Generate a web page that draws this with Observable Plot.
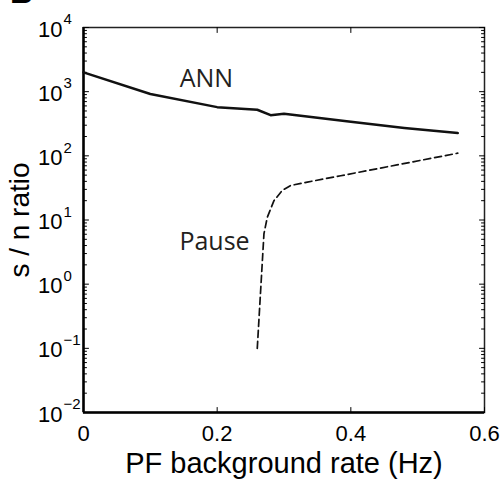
<!DOCTYPE html>
<html><head><meta charset="utf-8">
<script src="https://cdn.jsdelivr.net/npm/d3@7"></script>
<script src="https://cdn.jsdelivr.net/npm/@observablehq/plot@0.6"></script>
<style>
body{margin:0;background:#fff}
#chart{position:relative;width:504px;height:479px;overflow:hidden;background:#fff}
#panel{position:absolute;left:10px;top:-24px;font:bold 32px/32px 'Liberation Sans',Arial,sans-serif;color:#000}
</style>
</head><body><div id="chart"><div id="panel">B</div></div>
<script>
// ANN series (solid)
const annRate = [0, 0.1, 0.2, 0.26, 0.28, 0.30, 0.40, 0.48, 0.56];
const annSN   = [2000, 920, 574, 523, 430, 453, 340, 272, 226];
// Pause series (dashed)
const pauseRate = [0.26, 0.27, 0.275, 0.285, 0.2975, 0.31, 0.335, 0.385, 0.56];
const pauseSN   = [0.1, 6.1, 11, 20, 29, 34.5, 39, 49, 110];
// ticks
const xTickValues = [0, 0.2, 0.4, 0.6];
const xTickLabels = ["0", "0.2", "0.4", "0.6"];
const yTickValues = [1e-2, 1e-1, 1, 10, 100, 1000, 1e4];
const yTickBase = "10";
const yTickExponents = ["\u22122", "\u22121", "0", "1", "2", "3", "4"];
// series labels
const seriesNames = ["ANN", "Pause"];
const seriesLabelRate = [0.184, 0.196];
const seriesLabelSN = [1550, 4.47];
const xTitle = "PF background rate (Hz)";
const yTitle = "s / n ratio";

const ann = annRate.map((x, i) => ({x, y: annSN[i]}));
const pause = pauseRate.map((x, i) => ({x, y: pauseSN[i]}));
const labels = seriesNames.map((t, i) => ({t, x: seriesLabelRate[i], y: seriesLabelSN[i]}));
const yMinor = [];
for (let i = 0; i < yTickValues.length - 1; i++) for (let k = 2; k <= 9; k++) yMinor.push(yTickValues[i] * k);

const tickShape = {draw(context, l) { context.moveTo(0, 0); context.lineTo(0, -l); }};
const inTick = (data, channel, frameAnchor, rotate, length) =>
  Plot.vector(data, {[channel]: d => d, frameAnchor, rotate, length, anchor: "start",
    shape: tickShape, stroke: "#000", strokeWidth: 1});

const tickFont = "'Liberation Sans', Arial, sans-serif";
const plot = Plot.plot({
  width: 504, height: 479,
  marginLeft: 83, marginRight: 20, marginTop: 27, marginBottom: 67,
  style: {fontFamily: tickFont, background: "#fff", color: "#000"},
  x: {domain: [0, 0.6], axis: null},
  y: {type: "log", domain: [1e-2, 1e4], axis: null},
  marks: [
    Plot.frame({stroke: "#222", strokeWidth: 1.5}),
    Plot.ruleX([0], {strokeWidth: 2.5, stroke: "#000"}),
    Plot.ruleY([1e-2], {strokeWidth: 2.5, stroke: "#000"}),
    inTick(xTickValues, "x", "bottom", 0, 5),
    inTick(xTickValues, "x", "top", 180, 5),
    inTick(yTickValues, "y", "left", 90, 5),
    inTick(yMinor, "y", "left", 90, 3),
    inTick(yTickValues, "y", "right", -90, 5),
    inTick(yMinor, "y", "right", -90, 3),
    Plot.text(xTickValues, {x: d => d, frameAnchor: "bottom", text: (d, i) => xTickLabels[i],
      textAnchor: "middle", lineAnchor: "middle", dy: 21, fontSize: 22}),
    Plot.text(yTickValues, {y: d => d, frameAnchor: "left", text: () => yTickBase,
      textAnchor: "end", lineAnchor: "middle", dx: -21, dy: 2, fontSize: 22}),
    Plot.text(yTickValues, {y: d => d, frameAnchor: "left", text: (d, i) => yTickExponents[i],
      textAnchor: "start", lineAnchor: "middle", dx: -20, dy: -8, fontSize: 15}),
    Plot.text([xTitle], {frameAnchor: "bottom", textAnchor: "middle", lineAnchor: "middle", dy: 51, fontSize: 29}),
    Plot.text([yTitle], {frameAnchor: "left", textAnchor: "middle", lineAnchor: "middle", dx: -63, rotate: -90, fontSize: 28}),
    Plot.line(ann, {x: "x", y: "y", stroke: "#111", strokeWidth: 2.5}),
    Plot.line(pause, {x: "x", y: "y", stroke: "#111", strokeWidth: 1.7, strokeDasharray: "7,4"}),
    Plot.text(labels, {x: "x", y: "y", text: "t", fontSize: 25, fontFamily: "'Open Sans', sans-serif", fill: "#231f20"})
  ]
});
document.getElementById("chart").appendChild(plot);
</script>
</body></html>
